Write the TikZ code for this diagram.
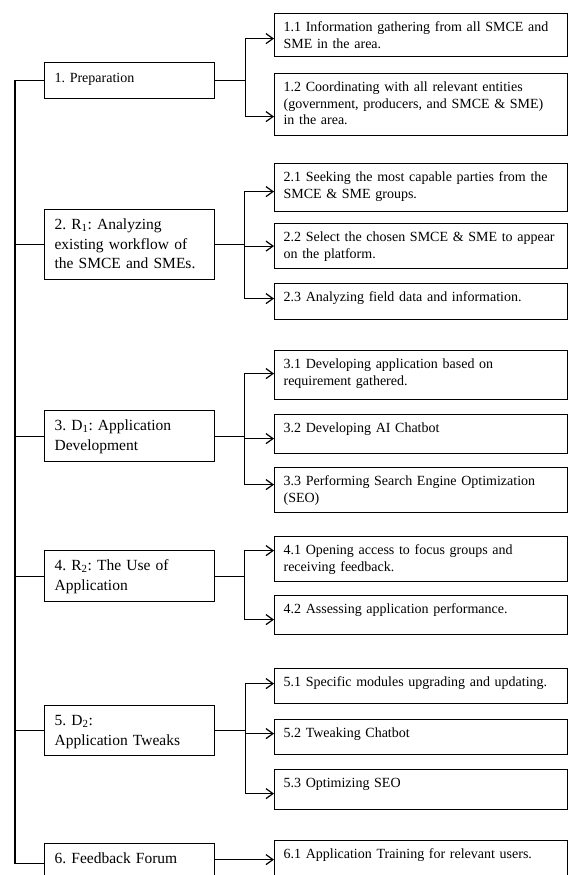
\documentclass[tikz,border=0pt]{standalone}
\usepackage{fontspec}
\setmainfont{Liberation Serif}
\usetikzlibrary{positioning,calc,arrows.meta}
\frenchspacing

\tikzset{
	phase/.style={draw, anchor=north west, text width=150pt, inner xsep=10pt, inner ysep=9pt,
		align=left, font=\fontsize{15.5}{19.5}\selectfont, text height=11pt, text depth=#1pt-29pt},
	task/.style={draw, anchor=north west, text width=274.5pt, inner xsep=9pt, inner ysep=8pt,
		align=left, font=\fontsize{14}{16.5}\selectfont, text height=10pt, text depth=#1pt-26pt},
	arr/.style={-{Straight Barb[length=7pt,width=10pt]}}
}

\begin{document}
\begin{tikzpicture}
		[x=1pt, y=-1pt, line width=1.2pt]
		\useasboundingbox (0,0) rectangle (568,875);
		\clip (0,0) rectangle (568,875);

		\node[phase=36, font=\fontsize{14}{17}\selectfont] (p1) at (44,62) {1. Preparation};
		\node[phase=70] (p2) at (44,209) {2. R\textsubscript{1}: Analyzing\\existing workflow of\\the SMCE and SMEs.};
		\node[phase=51] (p3) at (44,410) {3. D\textsubscript{1}: Application\\Development};
		\node[phase=51] (p4) at (44,550) {4. R\textsubscript{2}: The Use of\\Application};
		\node[phase=50] (p5) at (44,705) {5. D\textsubscript{2}:\\Application Tweaks};
		\node[phase=40] (p6) at (44,843) {6. Feedback Forum};

		\node[task=43] (t11) at (274,13) {1.1 Information gathering from all SMCE and\\SME in the area.};
		\node[task=62] (t12) at (274,73) {1.2 Coordinating with all relevant entities\\(government, producers, and SMCE \& SME)\\in the area.};
		\node[task=48] (t21) at (274,163) {2.1 Seeking the most capable parties from the\\SMCE \& SME groups.};
		\node[task=45] (t22) at (274,223) {2.2 Select the chosen SMCE \& SME to appear\\on the platform.};
		\node[task=36] (t23) at (274,283) {2.3 Analyzing field data and information.};
		\node[task=49] (t31) at (274,350) {3.1 Developing application based on\\requirement gathered.};
		\node[task=39] (t32) at (274,414) {3.2 Developing AI Chatbot};
		\node[task=45] (t33) at (274,467) {3.3 Performing Search Engine Optimization\\(SEO)};
		\node[task=45] (t41) at (274,536) {4.1 Opening access to focus groups and\\receiving feedback.};
		\node[task=39] (t42) at (274,595) {4.2 Assessing application performance.};
		\node[task=35] (t51) at (274,668) {5.1 Specific modules upgrading and updating.};
		\node[task=35] (t52) at (274,719) {5.2 Tweaking Chatbot};
		\node[task=40] (t53) at (274,769) {5.3 Optimizing SEO};
		\node[task=38] (t61) at (274,840) {6.1 Application Training for relevant users.};

		\coordinate[left=29pt of p1.west] (k);
		\draw (p1.west) -- (k) -- (k |- p6.west) -- (p6.west);
		\foreach \i in {2,...,5}
			\draw (p\i.west) -- (k |- p\i.west);

		\coordinate[right=30pt of p1.east] (j1);
		\coordinate[right=29pt of p2.east] (j2);
		\coordinate[right=29pt of p3.east] (j3);
		\coordinate[right=29pt of p4.east] (j4);
		\coordinate[right=30pt of p5.east] (j5);
		\foreach \i in {1,...,5}
			\draw (p\i.east) -- (j\i);

		\foreach \t/\s in {t11/-3.5, t12/-12}
			\draw[arr] (j1) |- ([yshift=\s pt]\t.west);
		\foreach \t/\s in {t21/-4, t22/0, t23/3}
			\draw[arr] (j2) |- ([yshift=\s pt]\t.west);
		\foreach \t/\s in {t31/1.5, t32/-4.5, t33/5.5}
			\draw[arr] (j3) |- ([yshift=\s pt]\t.west);
		\foreach \t/\s in {t41/8.5, t42/-4.5}
			\draw[arr] (j4) |- ([yshift=\s pt]\t.west);
		\foreach \t/\s in {t51/2.5, t52/3.5, t53/-4}
			\draw[arr] (j5) |- ([yshift=\s pt]\t.west);
		\draw[arr] (p6.east |- t61.west) -- (t61.west);
	\end{tikzpicture}
\end{document}
